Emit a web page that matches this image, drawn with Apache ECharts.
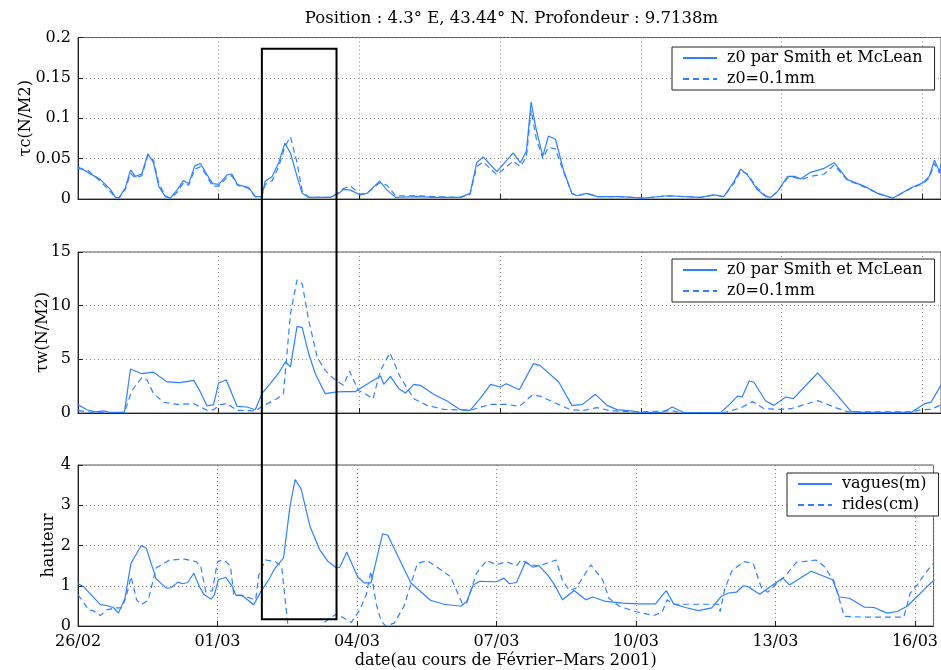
<!DOCTYPE html>
<html>
<head>
<meta charset="utf-8">
<script src="https://cdn.jsdelivr.net/npm/echarts@6/dist/echarts.min.js"></script>
<style>
  html, body { margin: 0; padding: 0; background: #fff; }
  #chart { width: 941px; height: 670px; }
</style>
</head>
<body>
<div id="chart"></div>
<script>
// time in days since 26/02 00:00
const tickLabels = ['26/02', '01/03', '04/03', '07/03', '10/03', '13/03', '16/03'];
const dayMax = 18.4;

// tau c (N/M2)
const tauCSmith = [[0,0.040],[0.48,0.024],[0.69,0.012],[0.80,0.002],[0.87,0.001],[1.01,0.014],[1.12,0.036],[1.22,0.028],[1.36,0.031],[1.49,0.056],[1.61,0.045],[1.72,0.016],[1.86,0.003],[1.97,0.001],[2.11,0.011],[2.25,0.023],[2.36,0.019],[2.49,0.041],[2.61,0.044],[2.71,0.034],[2.87,0.019],[3.0,0.018],[3.18,0.030],[3.28,0.031],[3.40,0.018],[3.64,0.014],[3.78,0.003],[3.92,0.003],[3.99,0.022],[4.14,0.028],[4.28,0.045],[4.41,0.069],[4.53,0.057],[4.67,0.028],[4.78,0.007],[4.92,0.002],[5.38,0.002],[5.56,0.007],[5.66,0.012],[5.81,0.011],[6.02,0.005],[6.16,0.007],[6.43,0.022],[6.59,0.011],[6.77,0.002],[7.23,0.003],[7.58,0.002],[8.15,0.002],[8.36,0.007],[8.50,0.045],[8.64,0.052],[8.93,0.034],[9.28,0.057],[9.43,0.045],[9.56,0.059],[9.66,0.120],[9.77,0.086],[9.91,0.053],[10.03,0.078],[10.18,0.074],[10.35,0.036],[10.53,0.007],[10.64,0.004],[10.85,0.007],[11.07,0.003],[11.56,0.003],[12.06,0.001],[12.56,0.004],[13.27,0.002],[13.56,0.005],[13.77,0.003],[13.99,0.022],[14.13,0.037],[14.27,0.030],[14.48,0.012],[14.66,0.003],[14.77,0.002],[14.91,0.009],[15.13,0.028],[15.27,0.028],[15.41,0.025],[15.62,0.033],[15.91,0.038],[16.12,0.045],[16.41,0.024],[16.76,0.016],[17.05,0.007],[17.37,0.001],[17.76,0.014],[18.01,0.020],[18.15,0.028],[18.26,0.048],[18.37,0.034],[18.42,0.048]];
const tauC01 = [[0,0.038],[0.2,0.036],[0.48,0.022],[0.80,0.002],[0.87,0.001],[1.01,0.012],[1.12,0.032],[1.22,0.026],[1.36,0.029],[1.49,0.054],[1.61,0.048],[1.72,0.020],[1.86,0.004],[1.97,0.001],[2.11,0.008],[2.25,0.020],[2.36,0.017],[2.49,0.037],[2.61,0.040],[2.71,0.032],[2.87,0.016],[3.0,0.016],[3.18,0.027],[3.28,0.029],[3.40,0.017],[3.64,0.013],[3.78,0.003],[3.92,0.003],[3.99,0.018],[4.14,0.023],[4.28,0.040],[4.41,0.065],[4.53,0.077],[4.67,0.045],[4.78,0.010],[4.92,0.002],[5.38,0.002],[5.56,0.008],[5.66,0.013],[5.81,0.016],[6.02,0.006],[6.16,0.007],[6.43,0.020],[6.59,0.017],[6.77,0.004],[7.23,0.004],[7.58,0.003],[8.15,0.002],[8.36,0.006],[8.50,0.040],[8.64,0.046],[8.93,0.030],[9.28,0.047],[9.43,0.040],[9.56,0.052],[9.66,0.110],[9.77,0.075],[9.91,0.050],[10.03,0.064],[10.18,0.062],[10.35,0.034],[10.53,0.007],[10.64,0.004],[10.85,0.007],[11.07,0.003],[11.56,0.003],[12.06,0.001],[12.56,0.004],[13.27,0.002],[13.56,0.005],[13.77,0.003],[13.99,0.020],[14.13,0.035],[14.27,0.031],[14.48,0.014],[14.66,0.004],[14.77,0.002],[14.91,0.009],[15.13,0.026],[15.27,0.027],[15.41,0.024],[15.62,0.028],[15.91,0.031],[16.12,0.042],[16.41,0.023],[16.76,0.015],[17.05,0.007],[17.37,0.001],[17.76,0.013],[18.01,0.019],[18.15,0.026],[18.26,0.044],[18.37,0.032],[18.42,0.044]];

// tau w (N/M2)
const tauWSmith = [[0,0.78],[0.19,0.3],[0.37,0.1],[0.55,0.2],[0.69,0.05],[0.99,0.06],[1.12,4.1],[1.36,3.66],[1.61,3.8],[1.90,2.9],[2.18,2.83],[2.47,3.04],[2.61,1.95],[2.75,0.65],[2.89,0.78],[3.0,2.8],[3.16,3.1],[3.39,0.62],[3.60,0.56],[3.78,0.3],[3.92,1.8],[4.10,2.73],[4.28,3.73],[4.42,4.75],[4.53,4.3],[4.67,8.07],[4.78,7.95],[4.92,5.5],[5.06,3.66],[5.27,1.8],[5.52,1.96],[5.74,1.99],[5.91,1.99],[6.06,2.42],[6.16,2.67],[6.45,3.45],[6.52,2.67],[6.66,3.42],[6.84,2.27],[6.98,1.86],[7.16,2.67],[7.30,2.58],[7.58,1.74],[7.87,1.12],[8.15,0.31],[8.36,0.25],[8.57,1.33],[8.80,2.67],[9.0,2.42],[9.13,2.73],[9.41,2.17],[9.71,4.6],[9.85,4.44],[10.25,2.89],[10.53,0.71],[10.75,0.78],[11.03,1.74],[11.28,0.71],[11.49,0.31],[11.78,0.19],[11.99,0.06],[12.45,0.03],[12.67,0.56],[12.92,0.03],[13.70,0.03],[13.91,0.87],[14.06,1.58],[14.16,1.49],[14.31,2.98],[14.41,2.89],[14.66,1.12],[14.84,0.71],[15.09,1.49],[15.25,1.34],[15.77,3.73],[16.16,1.8],[16.48,0.15],[16.69,0.05],[17.76,0.05],[18.05,0.87],[18.19,1.02],[18.42,2.73]];
const tauW01 = [[0,0.25],[0.19,0.1],[0.37,0.05],[0.69,0.03],[0.99,0.06],[1.15,2.1],[1.36,3.3],[1.47,3.1],[1.61,1.8],[1.83,1.0],[2.11,0.8],[2.47,0.87],[2.75,0.25],[2.89,0.3],[3.03,0.78],[3.18,0.87],[3.39,0.25],[3.78,0.2],[3.96,0.7],[4.24,1.33],[4.38,1.8],[4.53,9.25],[4.67,12.4],[4.78,12.05],[4.92,8.6],[5.10,5.2],[5.27,3.97],[5.45,3.2],[5.66,2.58],[5.79,3.9],[5.98,2.1],[6.12,1.8],[6.29,1.33],[6.45,3.97],[6.65,5.6],[6.87,3.35],[7.16,1.33],[7.44,0.71],[7.80,0.34],[8.36,0.25],[8.79,0.8],[9.14,0.8],[9.41,0.62],[9.68,1.65],[9.85,1.58],[10.21,0.87],[10.5,0.3],[10.78,0.25],[11.07,0.5],[11.35,0.2],[11.92,0.1],[12.67,0.2],[12.85,0.03],[13.77,0.03],[14.13,0.47],[14.38,1.06],[14.63,0.4],[14.99,0.34],[15.2,0.4],[15.77,1.15],[16.12,0.56],[16.41,0.1],[17.76,0.1],[17.97,0.31],[18.19,0.34],[18.42,0.8]];

// hauteur
const vagues = [[0,1.05],[0.12,0.98],[0.48,0.53],[0.62,0.51],[0.76,0.46],[0.87,0.32],[1.01,0.69],[1.14,1.56],[1.36,2.0],[1.47,1.93],[1.68,1.17],[1.90,0.94],[2.0,0.95],[2.15,1.09],[2.25,1.05],[2.36,1.08],[2.49,1.31],[2.61,0.98],[2.71,0.78],[2.86,0.67],[2.93,0.76],[3.02,1.15],[3.18,1.21],[3.32,0.98],[3.40,0.76],[3.53,0.76],[3.78,0.53],[3.92,0.83],[4.10,1.15],[4.24,1.44],[4.42,1.69],[4.56,2.98],[4.67,3.64],[4.80,3.40],[4.99,2.47],[5.20,1.89],[5.38,1.60],[5.56,1.44],[5.63,1.46],[5.78,1.83],[6.02,1.21],[6.16,1.07],[6.30,1.07],[6.55,2.29],[6.66,2.26],[7.16,1.07],[7.58,0.64],[7.87,0.54],[8.23,0.49],[8.36,0.61],[8.50,1.02],[8.64,1.11],[9.0,1.10],[9.16,1.19],[9.28,1.05],[9.43,1.08],[9.63,1.60],[9.78,1.46],[9.91,1.50],[10.10,1.27],[10.25,1.02],[10.42,0.65],[10.67,0.88],[10.92,0.65],[11.07,0.72],[11.35,0.61],[11.71,0.57],[12.06,0.55],[12.42,0.55],[12.65,0.88],[12.81,0.55],[13.06,0.46],[13.34,0.38],[13.63,0.45],[13.84,0.74],[13.99,0.82],[14.16,0.84],[14.31,1.0],[14.41,0.98],[14.66,0.79],[14.98,1.05],[15.16,1.19],[15.30,1.02],[15.77,1.36],[16.23,1.15],[16.37,0.72],[16.59,0.69],[16.91,0.47],[17.12,0.46],[17.40,0.32],[17.62,0.36],[17.83,0.49],[18.01,0.69],[18.26,0.98],[18.42,1.15]];
const rides = [[0,0.78],[0.23,0.40],[0.33,0.38],[0.48,0.26],[0.62,0.40],[0.80,0.45],[0.94,0.45],[1.04,0.74],[1.14,1.23],[1.26,0.65],[1.36,0.53],[1.51,0.64],[1.68,1.44],[1.97,1.64],[2.29,1.66],[2.54,1.60],[2.64,1.48],[2.75,0.84],[2.89,0.88],[3.0,1.60],[3.09,1.64],[3.18,1.60],[3.28,1.48],[3.35,0.78],[3.53,0.76],[3.82,0.65],[3.89,1.27],[4.03,1.64],[4.24,1.60],[4.38,1.48],[4.51,0.07],[4.60,-0.4],[5.10,-0.4],[5.27,0.07],[5.56,0.30],[5.77,0.16],[5.88,0.09],[6.06,0.40],[6.20,0.78],[6.30,1.36],[6.41,0.57],[6.52,0.12],[6.62,0.0],[6.80,0.07],[7.01,0.49],[7.30,1.56],[7.51,1.62],[7.80,1.40],[8.01,1.23],[8.26,0.57],[8.36,0.57],[8.57,1.31],[8.79,1.63],[9.0,1.52],[9.21,1.60],[9.43,1.50],[9.53,1.64],[9.71,1.52],[9.93,1.50],[10.28,1.64],[10.42,1.13],[10.57,0.88],[10.71,0.94],[11.03,1.52],[11.28,1.15],[11.42,0.69],[11.64,0.49],[11.99,0.36],[12.38,0.26],[12.56,0.34],[12.67,0.65],[12.81,0.54],[13.77,0.54],[13.81,0.36],[13.91,0.92],[14.06,1.36],[14.31,1.60],[14.52,1.56],[14.70,0.94],[14.84,0.84],[15.02,1.05],[15.20,1.23],[15.45,1.58],[15.87,1.64],[16.05,1.48],[16.26,1.11],[16.48,0.24],[16.91,0.22],[17.76,0.22],[17.90,0.82],[18.05,1.02],[18.22,1.31],[18.40,1.56]];

// highlighted window (days), top in tau c units, bottom in hauteur units
const boxDays = [3.92, 5.56];
const boxTopTauC = 0.186;
const boxBottomHauteur = 0.17;

const FONT = 'DejaVu Serif';
const BLUE = '#2f80ff';
const dotted = { show: true, lineStyle: { color: '#888', type: [1, 3], width: 1 } };

function xAxis(gridIndex, last) {
  return {
    type: 'value', gridIndex, min: 0, max: dayMax, interval: 3,
    axisLine: { show: true, onZero: false, lineStyle: { color: '#222' } },
    axisTick: { show: true, inside: true, length: 5, lineStyle: { color: '#222' } },
    splitLine: dotted,
    axisLabel: {
      show: last, margin: 8, color: '#000', fontFamily: FONT, fontSize: 16,
      showMaxLabel: false,
      formatter: v => tickLabels[Math.round(v / 3)] || ''
    },
    name: last ? 'date(au cours de Février–Mars 2001)' : '',
    nameLocation: 'middle', nameGap: 27,
    nameTextStyle: { color: '#000', fontFamily: FONT, fontSize: 16 }
  };
}

function yAxis(gridIndex, name, max, interval, gap) {
  return {
    type: 'value', gridIndex, min: 0, max, interval,
    axisLine: { show: true, lineStyle: { color: '#222' } },
    axisTick: { show: true, inside: true, length: 5, lineStyle: { color: '#222' } },
    splitLine: dotted,
    axisLabel: { color: '#000', fontFamily: FONT, fontSize: 16, margin: 7 },
    name, nameLocation: 'middle', nameRotate: 90, nameGap: gap,
    nameMoveOverlap: false,
    nameTextStyle: { color: '#000', fontFamily: FONT, fontSize: 16 }
  };
}

function line(name, data, idx, dashed) {
  return {
    name, type: 'line', data, xAxisIndex: idx, yAxisIndex: idx,
    showSymbol: false, symbol: 'none', animation: false,
    lineStyle: { color: BLUE, width: 1.2, type: dashed ? [6, 4] : 'solid' },
    itemStyle: { color: BLUE }
  };
}

function legend(left, top, data) {
  return {
    orient: 'vertical', left, top, data,
    backgroundColor: '#fff', borderColor: '#222', borderWidth: 1,
    padding: [3, 12, 3, 10], itemWidth: 34, itemHeight: 14, itemGap: 5,
    selectedMode: false,
    itemStyle: { opacity: 0 },
    textStyle: { color: '#000', fontFamily: FONT, fontSize: 16, padding: [0, 0, 0, 5] }
  };
}

const grids = [
  { left: 78, right: 0, top: 37.5, height: 161.5 },
  { left: 78, right: 0, top: 252, height: 161 },
  { left: 78, right: 0, top: 465, height: 161 }
].map(g => Object.assign(g, { show: true, borderColor: '#555', borderWidth: 1, containLabel: false }));

const chart = echarts.init(document.getElementById('chart'));
chart.setOption({
  animation: false,
  grid: grids,
  xAxis: [xAxis(0, false), xAxis(1, false), xAxis(2, true)],
  yAxis: [
    yAxis(0, 'τc(N/M2)', 0.2, 0.05, 44),
    yAxis(1, 'τw(N/M2)', 15, 5, 27),
    yAxis(2, 'hauteur', 4, 1, 21)
  ],
  legend: [
    legend(672, 47, ['z0 par Smith et McLean', 'z0=0.1mm']),
    legend(672, 259, ['z0 par Smith et McLean', 'z0=0.1mm']),
    legend(787, 473, ['vagues(m)', 'rides(cm)'])
  ],
  series: [
    line('z0 par Smith et McLean', tauCSmith, 0, false),
    line('z0=0.1mm', tauC01, 0, true),
    line('z0 par Smith et McLean', tauWSmith, 1, false),
    line('z0=0.1mm', tauW01, 1, true),
    line('vagues(m)', vagues, 2, false),
    line('rides(cm)', rides, 2, true)
  ]
});

// title and highlight box placed through the axes' own scales
const topLeft = chart.convertToPixel({ xAxisIndex: 0, yAxisIndex: 0 }, [boxDays[0], boxTopTauC]);
const botRight = chart.convertToPixel({ xAxisIndex: 2, yAxisIndex: 2 }, [boxDays[1], boxBottomHauteur]);
const plotLeft = chart.convertToPixel({ xAxisIndex: 0 }, 0);
const plotMid = (plotLeft + chart.getWidth()) / 2 + 2;

chart.setOption({
  graphic: [
    {
      type: 'text', x: plotMid, y: 10, z: 10,
      style: {
        text: 'Position : 4.3° E, 43.44° N. Profondeur : 9.7138m',
        fill: '#000', font: '16.5px "' + FONT + '"', textAlign: 'center'
      }
    },
    {
      type: 'rect', z: 100,
      shape: { x: topLeft[0], y: topLeft[1], width: botRight[0] - topLeft[0], height: botRight[1] - topLeft[1] },
      style: { fill: 'none', stroke: '#000', lineWidth: 2 }
    }
  ]
});
</script>
</body>
</html>
